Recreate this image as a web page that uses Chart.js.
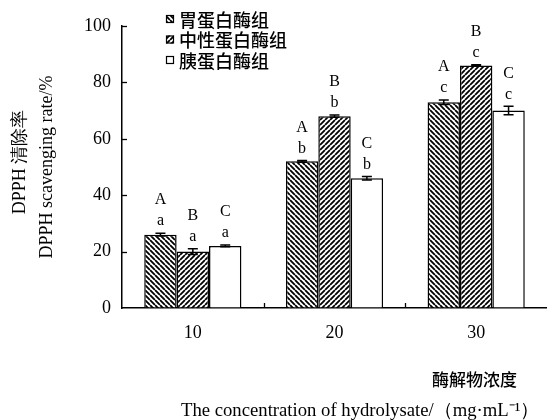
<!DOCTYPE html>
<html>
<head>
<meta charset="utf-8">
<script src="https://cdn.jsdelivr.net/npm/chart.js@4"></script>
<style>
  body { margin: 0; background: #fff; }
</style>
</head>
<body>
<canvas id="myChart" width="547" height="420"></canvas>
<script>
var categories = ['10', '20', '30'];
var seriesNames = ['胃蛋白酶组', '中性蛋白酶组', '胰蛋白酶组'];
var pepsinValues = [26, 52, 73];
var neutralValues = [20, 68, 86];
var trypsinValues = [22, 46, 70];
var pepsinErrors = [0.5, 0.3, 0.8];
var neutralErrors = [1.0, 0.4, 0.3];
var trypsinErrors = [0.3, 0.6, 1.5];
var seriesLetters = ['A', 'B', 'C'];
var groupLetters = ['a', 'b', 'c'];
var yTicks = [0, 20, 40, 60, 80, 100];
var yTitleLines = ['DPPH 清除率', 'DPPH scavenging rate/%'];
var xTitleCn = '酶解物浓度';
var xTitleEn = 'The concentration of hydrolysate/（mg·mL⁻¹）';

var serif = '"Liberation Serif", "Times New Roman", serif';
var cjk = '"Noto Sans CJK SC", "Noto Sans", sans-serif';

var canvas = document.getElementById('myChart');
var ctx = canvas.getContext('2d');

// diagonal hatch fill, 'back' = \\\ and 'fwd' = ///
function hatch(dir) {
    var s = 5;
    var c = document.createElement('canvas');
    c.width = s; c.height = s;
    var g = c.getContext('2d');
    g.fillStyle = '#fff';
    g.fillRect(0, 0, s, s);
    g.strokeStyle = '#000';
    g.lineWidth = 1.8;
    g.beginPath();
    for (var k = -1; k <= 1; k++) {
        if (dir === 'back') { g.moveTo(k * s, 0); g.lineTo(k * s + s, s); }
        else { g.moveTo(k * s, s); g.lineTo(k * s + s, 0); }
    }
    g.stroke();
    return ctx.createPattern(c, 'repeat');
}

var fills = [hatch('back'), hatch('fwd'), '#ffffff'];
var allErrors = [pepsinErrors, neutralErrors, trypsinErrors];

var extras = {
    id: 'extras',
    afterDatasetsDraw: function(chart) {
        var c = chart.ctx;
        var y = chart.scales.y;
        var x = chart.scales.x;
        var area = chart.chartArea;
        c.save();
        c.strokeStyle = '#000';
        c.fillStyle = '#000';
        c.lineWidth = 1.3;

        // inward ticks on the y axis
        yTicks.forEach(function(t) {
            if (t === 0) return;
            var py = Math.round(y.getPixelForValue(t)) + 0.5;
            c.beginPath();
            c.moveTo(area.left, py);
            c.lineTo(area.left + 5, py);
            c.stroke();
        });
        // small upward ticks between categories
        for (var i = 1; i < categories.length; i++) {
            var px = Math.round((x.getPixelForValue(i - 1) + x.getPixelForValue(i)) / 2) + 0.5;
            c.beginPath();
            c.moveTo(px, area.bottom);
            c.lineTo(px, area.bottom - 5);
            c.stroke();
        }

        chart.data.datasets.forEach(function(ds, di) {
            var meta = chart.getDatasetMeta(di);
            meta.data.forEach(function(bar, j) {
                var v = ds.data[j];
                var e = allErrors[di][j];
                var top = y.getPixelForValue(v + e);
                var bot = y.getPixelForValue(v - e);
                var bx = bar.x;
                c.lineWidth = 1.5;
                c.beginPath();
                c.moveTo(bx, top); c.lineTo(bx, bot);
                c.moveTo(bx - 5, top); c.lineTo(bx + 5, top);
                c.moveTo(bx - 5, bot); c.lineTo(bx + 5, bot);
                c.stroke();

                c.font = '16px ' + serif;
                c.textAlign = 'center';
                c.textBaseline = 'middle';
                c.fillText(groupLetters[j], bx, top - 12);
                c.fillText(seriesLetters[di], bx, top - 33);
            });
        });
        c.restore();
    },
    afterDraw: function(chart) {
        var c = chart.ctx;
        c.save();
        c.fillStyle = '#000';

        // legend
        var ly = [19, 39.5, 60];
        seriesNames.forEach(function(name, i) {
            c.fillStyle = fills[i];
            c.fillRect(166, ly[i] - 4, 8, 8);
            c.strokeStyle = '#000';
            c.lineWidth = 1.2;
            c.strokeRect(166.5, ly[i] - 3.5, 7, 7);
            c.fillStyle = '#000';
            c.font = '500 18px ' + cjk;
            c.textAlign = 'left';
            c.textBaseline = 'middle';
            c.fillText(name, 179, ly[i] + 1);
        });

        // y title
        c.save();
        c.translate(20, 162);
        c.rotate(-Math.PI / 2);
        c.font = '18px ' + serif;
        c.textAlign = 'center';
        c.textBaseline = 'middle';
        c.fillText(yTitleLines[0], 0, 0);
        c.restore();
        c.save();
        c.translate(47, 167);
        c.rotate(-Math.PI / 2);
        c.font = '18px ' + serif;
        c.textAlign = 'center';
        c.textBaseline = 'middle';
        c.fillText(yTitleLines[1], 0, 0);
        c.restore();

        // x title
        c.font = '500 17px ' + cjk;
        c.textAlign = 'right';
        c.textBaseline = 'middle';
        c.fillText(xTitleCn, 517, 380);
        c.font = '18.7px ' + serif;
        c.textAlign = 'left';
        c.textBaseline = 'alphabetic';
        c.fillText(xTitleEn, 181, 416);
        c.restore();
    }
};

var myChart = new Chart(ctx, {
    type: 'bar',
    data: {
        labels: categories,
        datasets: [{
            label: seriesNames[0],
            data: pepsinValues,
            backgroundColor: fills[0],
            borderColor: '#000',
            borderWidth: 1.5
        }, {
            label: seriesNames[1],
            data: neutralValues,
            backgroundColor: fills[1],
            borderColor: '#000',
            borderWidth: 1.5
        }, {
            label: seriesNames[2],
            data: trypsinValues,
            backgroundColor: fills[2],
            borderColor: '#000',
            borderWidth: 1.5
        }]
    },
    options: {
        responsive: false,
        animation: false,
        layout: { padding: { top: 26, right: 0, left: 0, bottom: 0 } },
        plugins: {
            legend: { display: false },
            tooltip: { enabled: false }
        },
        datasets: {
            bar: { categoryPercentage: 0.686, barPercentage: 1.0 }
        },
        scales: {
            x: {
                afterFit: function(s) { s.height = 112; },
                grid: { display: true, drawOnChartArea: false, drawTicks: false },
                border: { display: true, color: '#000', width: 1.5 },
                ticks: { color: '#000', padding: 14, font: { family: serif, size: 18 } }
            },
            y: {
                min: 0,
                max: 100,
                afterFit: function(s) { s.width = 122; },
                afterBuildTicks: function(s) {
                    s.ticks = yTicks.map(function(v) { return { value: v }; });
                },
                grid: { display: true, drawOnChartArea: false, drawTicks: false },
                border: { display: true, color: '#000', width: 1.5 },
                ticks: { color: '#000', padding: 11, font: { family: serif, size: 18 } }
            }
        }
    },
    plugins: [extras]
});
</script>
</body>
</html>
